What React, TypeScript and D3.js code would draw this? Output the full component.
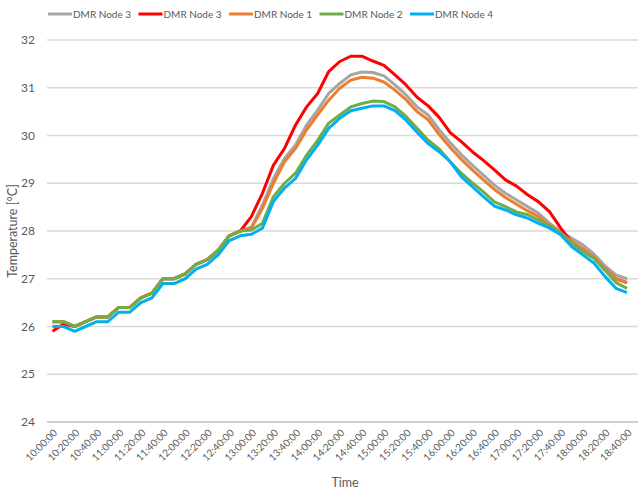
import { useEffect, useRef } from 'react'
import * as d3 from 'd3'

const TIMES = [
  '10:00:00', '10:10:00', '10:20:00', '10:30:00', '10:40:00', '10:50:00',
  '11:00:00', '11:10:00', '11:20:00', '11:30:00', '11:40:00', '11:50:00',
  '12:00:00', '12:10:00', '12:20:00', '12:30:00', '12:40:00', '12:50:00',
  '13:00:00', '13:10:00', '13:20:00', '13:30:00', '13:40:00', '13:50:00',
  '14:00:00', '14:10:00', '14:20:00', '14:30:00', '14:40:00', '14:50:00',
  '15:00:00', '15:10:00', '15:20:00', '15:30:00', '15:40:00', '15:50:00',
  '16:00:00', '16:10:00', '16:20:00', '16:30:00', '16:40:00', '16:50:00',
  '17:00:00', '17:10:00', '17:20:00', '17:30:00', '17:40:00', '17:50:00',
  '18:00:00', '18:10:00', '18:20:00', '18:30:00', '18:40:00',
]

// every second category gets a label
const TICK_LABELS = TIMES.filter((_, i) => i % 2 === 0)
const Y_TICKS = [24, 25, 26, 27, 28, 29, 30, 31, 32]

const NODE3_GRAY = [
  26.1, 26.1, 26.0, 26.1, 26.2, 26.2, 26.4, 26.4, 26.6, 26.7, 27.0, 27.0, 27.1, 27.3, 27.4, 27.55, 27.9, 28.0,
  28.08, 28.54, 29.1, 29.52, 29.8, 30.22, 30.53, 30.88, 31.09, 31.27, 31.33, 31.32, 31.25, 31.06, 30.85, 30.6,
  30.43, 30.12, 29.85, 29.6, 29.38, 29.17, 28.96, 28.79, 28.65, 28.51, 28.37, 28.16, 27.99, 27.85, 27.71,
  27.52, 27.27, 27.08, 27.0,
]
const NODE3_RED = [
  25.9, 26.05, 26.0, 26.1, 26.2, 26.2, 26.4, 26.4, 26.6, 26.7, 27.0, 27.0, 27.1, 27.3, 27.4, 27.6, 27.9, 28.0,
  28.3, 28.79, 29.38, 29.73, 30.22, 30.6, 30.88, 31.34, 31.55, 31.66, 31.66, 31.56, 31.47, 31.27, 31.06, 30.8,
  30.62, 30.38, 30.06, 29.87, 29.66, 29.48, 29.28, 29.07, 28.94, 28.76, 28.61, 28.4, 28.06, 27.76, 27.62,
  27.44, 27.2, 27.0, 26.92,
]
const NODE1 = [
  26.1, 26.1, 26.0, 26.1, 26.2, 26.2, 26.4, 26.4, 26.6, 26.7, 27.0, 27.0, 27.1, 27.3, 27.4, 27.6, 27.9, 28.0,
  28.06, 28.47, 29.0, 29.45, 29.73, 30.12, 30.43, 30.74, 30.99, 31.16, 31.22, 31.2, 31.12, 30.95, 30.75, 30.5,
  30.33, 30.02, 29.75, 29.5, 29.28, 29.07, 28.87, 28.7, 28.56, 28.42, 28.3, 28.12, 27.96, 27.78, 27.63,
  27.45, 27.2, 27.0, 26.92,
]
const NODE2 = [
  26.1, 26.1, 26.0, 26.1, 26.2, 26.2, 26.4, 26.4, 26.6, 26.7, 27.0, 27.0, 27.1, 27.3, 27.4, 27.6, 27.9, 28.0,
  28.02, 28.16, 28.72, 29.0, 29.21, 29.59, 29.9, 30.26, 30.43, 30.6, 30.67, 30.72, 30.71, 30.6, 30.4, 30.15,
  29.9, 29.72, 29.45, 29.21, 29.01, 28.82, 28.61, 28.51, 28.4, 28.34, 28.23, 28.1, 27.95, 27.74, 27.57,
  27.43, 27.18, 26.92, 26.8,
]
const NODE4 = [
  26.0, 26.0, 25.9, 26.0, 26.1, 26.1, 26.3, 26.3, 26.5, 26.6, 26.9, 26.9, 27.0, 27.2, 27.3, 27.5, 27.8, 27.9,
  27.93, 28.06, 28.62, 28.9, 29.1, 29.49, 29.8, 30.15, 30.36, 30.52, 30.57, 30.62, 30.62, 30.52, 30.32, 30.07,
  29.83, 29.66, 29.45, 29.14, 28.93, 28.72, 28.52, 28.44, 28.34, 28.27, 28.16, 28.06, 27.92, 27.67, 27.5,
  27.33, 27.05, 26.8, 26.71,
]

const SERIES = [
  { name: 'DMR Node 3', color: '#A5A5A5', values: NODE3_GRAY },
  { name: 'DMR Node 3', color: '#FF0000', values: NODE3_RED },
  { name: 'DMR Node 1', color: '#ED7D31', values: NODE1 },
  { name: 'DMR Node 2', color: '#70AD47', values: NODE2 },
  { name: 'DMR Node 4', color: '#00B0F0', values: NODE4 },
]

const FONT = 'Lato, "Open Sans", sans-serif'
const TXT = '#595959'

export default function App() {
  const svgRef = useRef<SVGSVGElement>(null)

  useEffect(() => {
    if (!svgRef.current) return
    const left = 47
    const right = 638
    const top = 40
    const bottom = 422

    const svg = d3.select(svgRef.current)
    svg.selectAll('*').remove()

    const x = d3.scalePoint<string>().domain(TIMES).range([52.5, 627])
    const y = d3.scaleLinear().domain([24, 32]).range([bottom, top])

    // gridlines
    svg.append('g').selectAll('line')
      .data(Y_TICKS)
      .enter()
      .append('line')
      .attr('x1', left).attr('x2', right)
      .attr('y1', d => y(d)).attr('y2', d => y(d))
      .attr('stroke', d => d === 24 ? '#BFBFBF' : '#D9D9D9')
      .attr('stroke-width', 1.3)

    // y tick labels
    svg.append('g').selectAll('text')
      .data(Y_TICKS)
      .enter()
      .append('text')
      .attr('x', 35).attr('y', d => y(d))
      .attr('dy', '0.35em')
      .attr('text-anchor', 'end')
      .attr('fill', TXT)
      .attr('font-size', '12px')
      .attr('font-family', FONT)
      .text(d => d)

    // x tick labels
    svg.append('g').selectAll('text')
      .data(TICK_LABELS)
      .enter()
      .append('text')
      .attr('transform', d => `translate(${x(d)! + 3},${431}) rotate(-45)`)
      .attr('text-anchor', 'end')
      .attr('dy', '0.35em')
      .attr('fill', TXT)
      .attr('font-size', '10px')
      .attr('font-family', FONT)
      .text(d => d)

    // lines
    const line = d3.line<number>()
      .x((_, i) => x(TIMES[i])!)
      .y(d => y(d))

    SERIES.forEach(s => {
      svg.append('path')
        .datum(s.values)
        .attr('d', line)
        .attr('fill', 'none')
        .attr('stroke', s.color)
        .attr('stroke-width', 3)
        .attr('stroke-linejoin', 'round')
    })

    // axis titles
    svg.append('text')
      .attr('x', 345).attr('y', 487)
      .attr('text-anchor', 'middle')
      .attr('fill', TXT).attr('font-size', '12.5px').attr('font-family', FONT)
      .text('Time')

    svg.append('text')
      .attr('transform', `translate(17,${(top + bottom) / 2}) rotate(-90)`)
      .attr('text-anchor', 'middle')
      .attr('fill', TXT).attr('font-size', '12.5px').attr('font-family', FONT)
      .text('Temperature [°C]')

    // legend
    const lg = svg.append('g')
    SERIES.forEach((s, i) => {
      const lx = 48 + i * 90.5
      lg.append('line')
        .attr('x1', lx).attr('x2', lx + 24)
        .attr('y1', 14).attr('y2', 14)
        .attr('stroke', s.color).attr('stroke-width', 3)
      lg.append('text')
        .attr('x', lx + 25).attr('y', 14)
        .attr('dy', '0.35em')
        .attr('fill', TXT).attr('font-size', '10px').attr('font-family', FONT)
        .text(s.name)
    })
  }, [])

  return (
    <div style={{ position: 'fixed', left: 0, top: 0, width: 638, height: 492, background: '#fff', overflow: 'hidden' }}>
      <svg ref={svgRef} width={638} height={492} style={{ display: 'block' }} />
    </div>
  )
}
